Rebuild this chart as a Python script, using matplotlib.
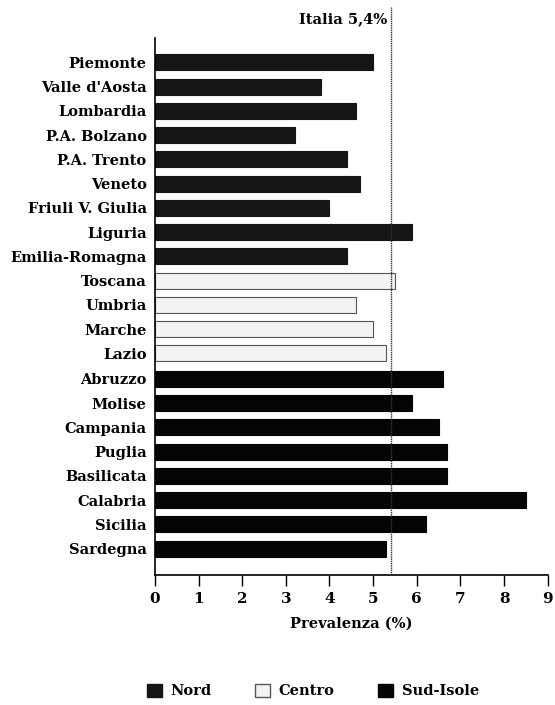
import numpy as np
import matplotlib
matplotlib.use("Agg")
import matplotlib.pyplot as plt
from matplotlib.patches import Patch

regions = ["Piemonte", "Valle d'Aosta", "Lombardia", "P.A. Bolzano", "P.A. Trento",
           "Veneto", "Friuli V. Giulia", "Liguria", "Emilia-Romagna",
           "Toscana", "Umbria", "Marche", "Lazio",
           "Abruzzo", "Molise", "Campania", "Puglia", "Basilicata", "Calabria",
           "Sicilia", "Sardegna"]
prevalence = [5.0, 3.8, 4.6, 3.2, 4.4, 4.7, 4.0, 5.9, 4.4,
              5.5, 4.6, 5.0, 5.3,
              6.6, 5.9, 6.5, 6.7, 6.7, 8.5, 6.2, 5.3]
area = ["Nord"] * 9 + ["Centro"] * 4 + ["Sud-Isole"] * 8
italia = 5.4

face = {"Nord": "#151515", "Centro": "#f3f3f3", "Sud-Isole": "#050505"}
edge = {"Nord": "#151515", "Centro": "#555555", "Sud-Isole": "#050505"}

plt.rcParams['font.family'] = ['DejaVu Serif']
plt.rcParams['font.weight'] = 'bold'

fig = plt.figure(figsize=(5.55, 7.05), dpi=100)
ax = fig.add_axes([0.279, 0.184, 0.708, 0.762])

# small extra gap between Centro and Sud-Isole
ypos = np.arange(len(regions), dtype=float)
ypos[13:] += 0.05

ax.barh(ypos, prevalence, height=0.66,
        color=[face[a] for a in area],
        edgecolor=[edge[a] for a in area], linewidth=0.8)

ax.set_ylim(ypos[-1] + 1.1, -1.0)
ax.set_xlim(0, 9)
ax.set_xticks(range(10))
ax.set_yticks(ypos)
ax.set_yticklabels(regions, fontsize=10.5, fontweight='bold')
ax.tick_params(axis='y', length=0, pad=6)
ax.tick_params(axis='x', length=8, width=1, labelsize=11, pad=4)

for s in ['top', 'right']:
    ax.spines[s].set_visible(False)
ax.spines['left'].set_linewidth(1.2)
ax.spines['bottom'].set_linewidth(1.2)

# national average line, running above the plot area
ax.plot([italia, italia], [0, 1.057], transform=ax.get_xaxis_transform(),
        color='#333333', lw=1.0, ls=(0, (1, 0.6)), clip_on=False, zorder=3)
ax.text(italia - 0.08, 1.035, "Italia 5,4%", transform=ax.get_xaxis_transform(),
        ha='right', va='center', fontsize=10.5, fontweight='bold')

ax.set_xlabel("Prevalenza (%)", fontsize=10.5, fontweight='bold', labelpad=8)

handles = [Patch(facecolor=face[k], edgecolor=edge[k], label=k)
           for k in ["Nord", "Centro", "Sud-Isole"]]
fig.legend(handles=handles, loc='center', bbox_to_anchor=(0.564, 0.02), ncol=3,
           frameon=False, prop={'size': 10.5, 'weight': 'bold'},
           handlelength=1.0, handleheight=1.0,
           columnspacing=3.0, handletextpad=0.6)

fig.savefig("out.png", dpi=100)
